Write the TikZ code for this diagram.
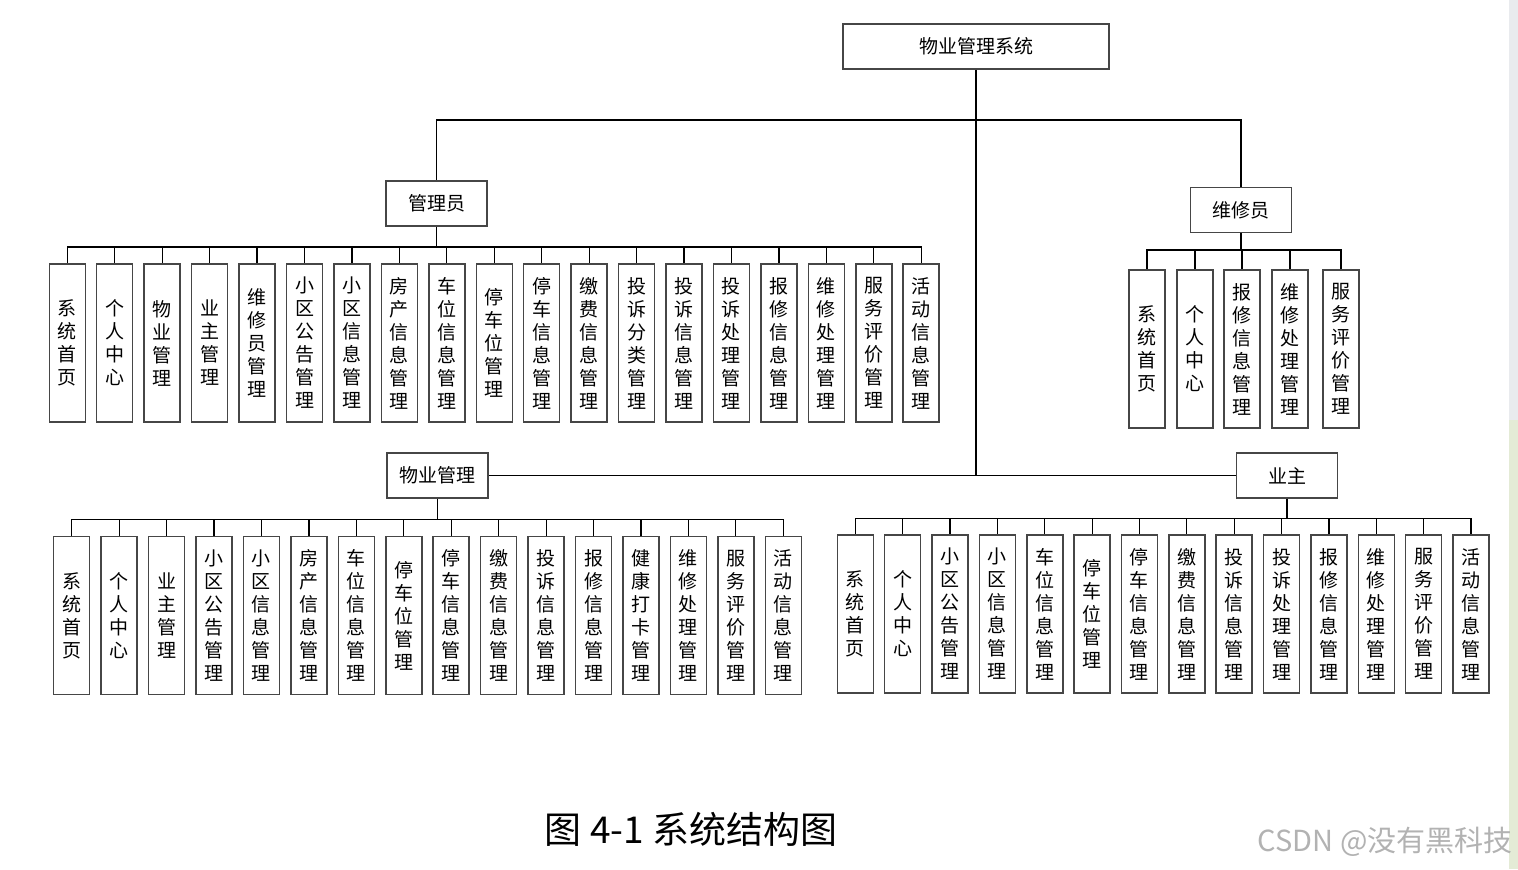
\documentclass[tikz,border=0pt]{standalone}
\usepackage{fontspec}
\setmainfont{Noto Sans CJK SC}
\usepackage{tikz}
\usetikzlibrary{positioning, calc}
\XeTeXlinebreaklocale "zh"
\XeTeXlinebreakskip = 0pt plus 1pt
\definecolor{BoxGray}{RGB}{70,70,70}
\definecolor{BarGray}{RGB}{233,235,238}
\definecolor{BarGreen}{RGB}{228,235,214}

\tikzset{
    boxline/.style={draw=BoxGray, line width=0.75pt, fill=white},
    rootbox/.style={boxline, minimum width=133pt, minimum height=22.5pt, inner sep=0pt,
        font=\fontsize{9.5pt}{11.5pt}\selectfont},
    rolebox/.style={boxline, minimum width=50.5pt, minimum height=22.5pt, inner sep=0pt,
        font=\fontsize{9.5pt}{11.5pt}\selectfont},
    leafbox/.style={boxline, minimum width=18pt, minimum height=79pt, inner sep=0pt,
        text width=11pt, align=center, font=\fontsize{9.5pt}{11.5pt}\selectfont},
    link/.style={draw=black, line width=0.6pt}
}

\begin{document}
\begin{tikzpicture}[x=0.5pt, y=-0.5pt]
        \useasboundingbox (0,0) rectangle (1518,869);
        % scroll bar at the right edge
        \fill[BarGray] (1509,0) rectangle (1518,420);
        \fill[BarGreen] (1509,420) rectangle (1518,869);

        % Top of the tree
        \node[rootbox] (root) at (976,46.5) {物业管理系统};
        \node[rolebox] (adm) at (436.5,203.5) {管理员};
        \node[rolebox] (rep) at (1241,210) {维修员};
        \node[rolebox] (prop) at (437.5,475.5) {物业管理};
        \node[rolebox] (own) at (1287,475.5) {业主};

        % Trunk
        \coordinate (topbus) at (976,120);
        \coordinate (midbus) at (976,475.5);
        \draw[link] (root.south) -- (topbus);
        \draw[link] (topbus) -| (adm.north);
        \draw[link] (topbus) -| (rep.north);
        \draw[link] (topbus) -- (midbus);
        \draw[link] (midbus) -- (prop.east);
        \draw[link] (midbus) -- (own.west);

        % Leaves of the administrator
        \foreach \t [count=\i] in {系统首页, 个人中心, 物业管理, 业主管理, 维修员管理,
            小区公告管理, 小区信息管理, 房产信息管理, 车位信息管理, 停车位管理,
            停车信息管理, 缴费信息管理, 投诉分类管理, 投诉信息管理, 投诉处理管理,
            报修信息管理, 维修处理管理, 服务评价管理, 活动信息管理}
            \node[leafbox] (a\i) at ({67.3+47.44*(\i-1)},343) {\t};
        \coordinate (admbus) at (436.5,247);
        \draw[link] (adm.south) -- (admbus);
        \foreach \i in {1,...,19}
            \draw[link] (admbus) -| (a\i.north);

        % Leaves of the repairman
        \foreach \t/\x [count=\i] in {系统首页/1147, 个人中心/1195, 报修信息管理/1242,
            维修处理管理/1290, 服务评价管理/1341}
            \node[leafbox] (r\i) at (\x,349) {\t};
        \coordinate (repbus) at (1241,250);
        \draw[link] (rep.south) -- (repbus);
        \foreach \i in {1,...,5}
            \draw[link] (repbus) -| (r\i.north);

        % Leaves of the property staff
        \foreach \t [count=\i] in {系统首页, 个人中心, 业主管理, 小区公告管理,
            小区信息管理, 房产信息管理, 车位信息管理, 停车位管理, 停车信息管理,
            缴费信息管理, 投诉信息管理, 报修信息管理, 健康打卡管理, 维修处理管理,
            服务评价管理, 活动信息管理}
            \node[leafbox] (p\i) at ({71.7+47.44*(\i-1)},615.5) {\t};
        \coordinate (propbus) at (437.5,519.5);
        \draw[link] (prop.south) -- (propbus);
        \foreach \i in {1,...,16}
            \draw[link] (propbus) -| (p\i.north);

        % Leaves of the owner
        \foreach \t [count=\i] in {系统首页, 个人中心, 小区公告管理, 小区信息管理,
            车位信息管理, 停车位管理, 停车信息管理, 缴费信息管理, 投诉信息管理,
            投诉处理管理, 报修信息管理, 维修处理管理, 服务评价管理, 活动信息管理}
            \node[leafbox] (o\i) at ({855.3+47.36*(\i-1)},614) {\t};
        \coordinate (ownbus) at (1287,518.5);
        \draw[link] (own.south) -- (ownbus);
        \foreach \i in {1,...,14}
            \draw[link] (ownbus) -| (o\i.north);

        % Caption and watermark
        \node[font=\fontsize{18.5pt}{22pt}\selectfont] (caption) at (691,829) {图 4-1 系统结构图};
        \node[font=\fontsize{14.5pt}{17pt}\selectfont, text=black!30] (mark) at (1385,842) {CSDN @没有黑科技};
    \end{tikzpicture}
\end{document}
